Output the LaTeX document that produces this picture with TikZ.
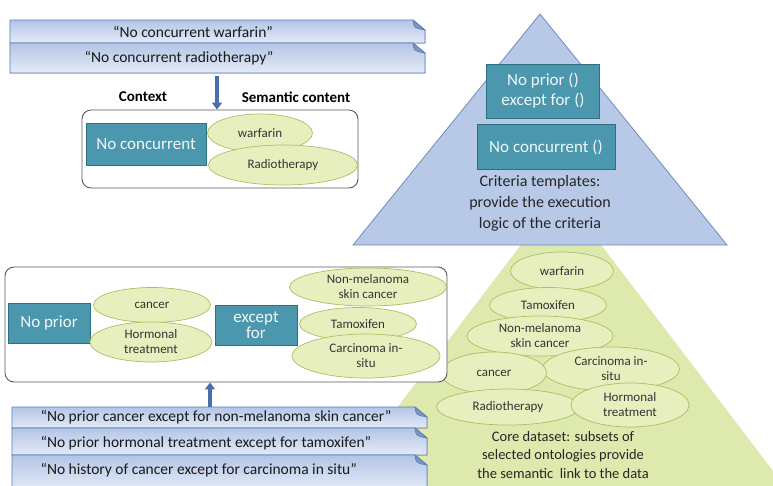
\documentclass[tikz,border=0pt]{standalone}
\usepackage{fontspec}
\setmainfont{Carlito}
\usepackage{tikz}
\usetikzlibrary{positioning}
\usetikzlibrary{shapes.geometric,arrows.meta}
\usepackage{xcolor}
\definecolor{tealbox}{HTML}{4B97AE}
\definecolor{tealline}{HTML}{2F6F82}
\definecolor{leaf}{HTML}{E8EFBF}
\definecolor{leafline}{HTML}{A9C05F}
\definecolor{coregreen}{HTML}{DEE9AE}
\definecolor{tmplblue}{HTML}{B8C9E7}
\definecolor{tmplline}{HTML}{6F8BBF}
\definecolor{sheettop}{HTML}{B3C5E6}
\definecolor{sheetbot}{HTML}{E4EBF7}
\definecolor{sheetline}{HTML}{5B7BB7}
\definecolor{arrowblue}{HTML}{4A6FAE}

\begin{document}
\begin{tikzpicture}[x=1pt, y=-1pt,
every node/.style = {font=\fontsize{13}{15}\selectfont, align=center},
  concept/.style = {ellipse, draw=leafline, fill=leaf, inner sep=0pt, text=black!80, line width=0.7pt},
  tmpl/.style = {rectangle, draw=tealline, fill=tealbox, text=white!92!tealbox, inner sep=0pt, line width=0.9pt, font=\fontsize{17}{19}\selectfont},
  holder/.style = {draw=black!65, fill=white, rounded corners=9pt, line width=0.9pt, inner sep=0pt},
  sheet/.style = {draw=sheetline, top color=sheettop, bottom color=sheetbot, line width=0.8pt},
  quote/.style = {font=\fontsize{15.5}{17}\selectfont, text=black!90},
  caption/.style = {font=\fontsize{16}{21}\selectfont, text=black!85},
  flow/.style = {arrowblue, line width=4.5pt, -{Triangle[width=10pt,length=7pt]}}
]
\useasboundingbox (0,0) rectangle (773,485);
\clip (0,0) rectangle (773,485);

% core dataset and criteria templates
\fill[coregreen] (561,192) -- (333,492) -- (789,492) -- cycle;
\filldraw[fill=tmplblue, draw=tmplline, line width=0.8pt] (540,14) -- (353,245) -- (727,245) -- cycle;

\node[tmpl, minimum width=113, minimum height=54] (tprior) at (543,91) {No prior ()\\[1pt]except for ()};
\node[tmpl, minimum width=138, minimum height=45] (tconc) at (546,147) {No concurrent ()};
\node[caption] (tcap) at (540,203) {Criteria templates:\\provide the execution\\logic of the criteria};

\node[concept, minimum width=103, minimum height=38] (cwarf) at (562,271) {warfarin};
\node[concept, minimum width=117, minimum height=35] (ctamox) at (548,305) {Tamoxifen};
\node[concept, minimum width=146, minimum height=40] (cmela) at (540,336) {Non-melanoma\\skin cancer};
\node[concept, minimum width=137, minimum height=44] (ccarc) at (611,369) {Carcinoma in-\\situ};
\node[concept, minimum width=105, minimum height=42] (ccanc) at (494,373) {cancer};
\node[concept, minimum width=143, minimum height=36] (cradio) at (508,407) {Radiotherapy};
\node[concept, minimum width=118, minimum height=44] (chorm) at (630,405) {Hormonal\\treatment};
\node[caption, font=\fontsize{14.5}{18.5}\selectfont] (ccap) at (563,455) {Core dataset: subsets of\\selected ontologies provide\\the semantic\ \ link to the data};

% sentences at the top
\foreach \ytop/\h in {20/23, 43/30}{
  \filldraw[sheet] (10,\ytop) -- (413,\ytop) -- (425,\ytop+10) -- (425,\ytop+\h) -- (10,\ytop+\h) -- cycle;
  \filldraw[fill=sheetline!80, draw=sheetline, line width=0.6pt] (413,\ytop) .. controls (414,\ytop+8) .. (425,\ytop+10) -- cycle;
}
\node[quote] (q1) at (193,32) {“No concurrent warfarin”};
\node[quote] (q2) at (179,58) {“No concurrent radiotherapy”};

\node[font=\bfseries\fontsize{15}{17}\selectfont] (lctx) at (143,97) {Context};
\node[font=\bfseries\fontsize{15}{17}\selectfont] (lsem) at (296,97) {Semantic content};

\node[holder, minimum width=276, minimum height=78] (frame1) at (220,149) {};
\coordinate (d1) at (217,76);
\draw[flow] (d1) -- (d1 |- frame1.north);

\node[tmpl, minimum width=120, minimum height=42] (nconc) at (146,144) {No concurrent};
\node[concept, minimum width=105, minimum height=38] (warf) at (260,133) {warfarin};
\node[concept, minimum width=149, minimum height=40] (radio) at (283,165) {Radiotherapy};

% decomposed sentences at the bottom
\node[holder, minimum width=442, minimum height=115] (frame2) at (226,324.5) {};
\node[tmpl, minimum width=82, minimum height=40] (nprior) at (49,323) {No prior};
\node[concept, minimum width=117, minimum height=35] (canc) at (152,305) {cancer};
\node[concept, minimum width=122, minimum height=40] (horm) at (151,342) {Hormonal\\treatment};
\node[tmpl, minimum width=82, minimum height=40] (nexc) at (256,325) {except\\[-3pt]for};
\node[concept, minimum width=157, minimum height=38] (mela) at (368,287) {Non-melanoma\\skin cancer};
\node[concept, minimum width=117, minimum height=33] (tamox) at (358,324) {Tamoxifen};
\node[concept, minimum width=148, minimum height=44] (carc) at (366,356) {Carcinoma in-\\situ};

\foreach \ytop/\h in {407/21, 428/27, 455/35}{
  \filldraw[sheet] (12,\ytop) -- (415,\ytop) -- (427,\ytop+10) -- (427,\ytop+\h) -- (12,\ytop+\h) -- cycle;
  \filldraw[fill=sheetline!80, draw=sheetline, line width=0.6pt] (415,\ytop) .. controls (416,\ytop+8) .. (427,\ytop+10) -- cycle;
}
\node[quote, anchor=west] (q3) at (37,417) {“No prior cancer except for non-melanoma skin cancer”};
\node[quote, anchor=west] (q4) at (37,443) {“No prior hormonal treatment except for tamoxifen”};
\node[quote, anchor=west] (q5) at (37,470) {“No history of cancer except for carcinoma in situ”};

\coordinate (u1) at (210,407);
\draw[flow] (u1) -- (u1 |- frame2.south);
\end{tikzpicture}
\end{document}
